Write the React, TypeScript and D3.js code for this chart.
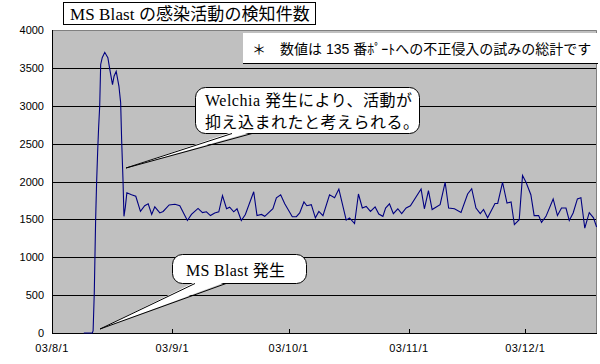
import * as d3 from "d3";

// day offsets from 03/8/1 and detection counts
const DAYS = [
  8.2, 10.4, 10.6, 10.9, 11.25, 11.5, 11.76, 12.0, 12.3, 12.55, 12.95, 13.6, 14.4, 14.9, 15.6,
  16.0, 16.55, 17.25, 17.7, 17.95, 18.3, 18.55, 18.9, 19.3, 20.5, 21.6, 22.8, 23.9, 24.8, 25.7,
  26.5, 27.8, 28.65, 30.2, 31.7, 32.95, 34.9, 35.95, 37.65, 38.8, 39.8, 40.85, 41.95, 43.0, 43.95,
  45.0, 45.8, 46.85, 47.7, 48.8, 49.85, 52.0, 52.85, 54.0, 54.85, 56.95, 57.85, 58.95, 60.0, 61.95,
  63.0, 63.85, 64.95, 65.7, 66.85, 67.9, 68.8, 69.85, 71.55, 72.85, 73.95, 75.85, 76.7, 78.0, 79.0,
  80.0, 81.0, 82.1, 83.3, 84.25, 85.3, 86.0, 87.0, 88.0, 89.15, 90.15, 91.3, 92.4, 95.15, 96.0,
  97.05, 98.0, 100.05, 101.35, 102.25, 103.75, 105.45, 107.15, 108.2, 109.3, 110.4, 111.25, 112.3, 114.2, 114.9,
  116.15, 117.3, 118.35, 119.2, 120.45, 121.3, 122.2, 123.45, 124.3, 125.45, 126.2, 127.35, 129.2, 130.3, 131.35,
  132.5, 133.35, 134.35, 135.45, 136.35, 137.35, 138.5, 139.6, 140.4,
];
const COUNTS = [
  0, 0, 30, 530, 1500, 1985, 2380, 2690, 3000, 3545, 3635, 3705, 3635, 3480, 3280,
  3390, 3455, 3260, 3040, 2550, 2025, 1540, 1660, 1850, 1825, 1805, 1605, 1680, 1705, 1565,
  1665, 1585, 1605, 1690, 1700, 1680, 1485, 1565, 1645, 1590, 1600, 1550, 1585, 1600, 1815,
  1640, 1660, 1600, 1640, 1485, 1565, 1865, 1550, 1565, 1540, 1640, 1785, 1825, 1705, 1535,
  1535, 1585, 1730, 1680, 1695, 1520, 1605, 1550, 1825, 1785, 1900, 1490, 1520, 1445, 1835,
  1650, 1670, 1605, 1665, 1570, 1540, 1650, 1705, 1575, 1640, 1575, 1650, 1680, 1900, 1640,
  1880, 1630, 1695, 1990, 1650, 1640, 1590, 1835, 1905, 1650, 1575, 1630, 1520, 1710, 1710,
  1990, 1715, 1730, 1430, 1495, 2080, 1990, 1825, 1550, 1550, 1460, 1540, 1770, 1550, 1650,
  1650, 1485, 1585, 1770, 1785, 1385, 1590, 1520, 1400,
];

const Y_TICKS = [0, 500, 1000, 1500, 2000, 2500, 3000, 3500, 4000];
const MONTH_DAYS = [0, 31, 61, 92, 122];
const MONTH_LABELS = ["03/8/1", "03/9/1", "03/10/1", "03/11/1", "03/12/1"];

const TITLE = "MS Blast の感染活動の検知件数";
const NOTE = "数値は 135 番ﾎﾟｰﾄへの不正侵入の試みの総計です";
const CALLOUT_WELCHIA = ["Welchia 発生により、活動が", "抑え込まれたと考えられる。"];
const CALLOUT_BLAST = "MS Blast 発生";

const W = 600;
const H = 364;
const PLOT = { left: 52, right: 597, top: 30, bottom: 333 };

const SERIF = "'Liberation Serif', 'Noto Sans CJK JP', serif";
const SANS = "'Liberation Sans', 'Noto Sans CJK JP', sans-serif";

type Pt = [number, number];

function Callout({
  box,
  base,
  tip,
  children,
}: {
  box: { x: number; y: number; w: number; h: number };
  base: [number, number];
  tip: Pt;
  children: React.ReactNode;
}) {
  const by = box.y + box.h;
  return (
    <g>
      <rect
        x={box.x}
        y={box.y}
        width={box.w}
        height={box.h}
        rx={10}
        fill="#fff"
        stroke="#000"
      />
      {/* wedge: fill covers box border between base points */}
      <polygon
        points={`${base[0]},${by - 1.5} ${tip[0]},${tip[1]} ${base[1]},${by - 1.5}`}
        fill="#fff"
      />
      <path
        d={`M${base[0]},${by} L${tip[0]},${tip[1]} L${base[1]},${by}`}
        fill="none"
        stroke="#000"
      />
      {children}
    </g>
  );
}

export default function App() {
  const x = d3.scaleLinear().domain([0, 140.5]).range([PLOT.left, PLOT.right]);
  const y = d3.scaleLinear().domain([0, 4000]).range([PLOT.bottom, PLOT.top]);
  const pts: Pt[] = DAYS.map((d, i) => [d, COUNTS[i]]);
  const line = d3
    .line<Pt>()
    .x((p) => x(p[0]))
    .y((p) => y(p[1]));

  return (
    <svg
      width={W}
      height={H}
      style={{ position: "fixed", left: 0, top: 0, background: "#fff" }}
    >
      {/* plot area */}
      <rect
        x={PLOT.left}
        y={PLOT.top}
        width={PLOT.right - PLOT.left}
        height={PLOT.bottom - PLOT.top}
        fill="#c0c0c0"
      />
      <path
        d={`M${PLOT.left},${PLOT.top + 0.5} H${PLOT.right - 0.5} V${PLOT.bottom}`}
        fill="none"
        stroke="#808080"
      />
      {Y_TICKS.map((t) => (
        <g key={t}>
          {t > 0 && t < 4000 && (
            <line
              x1={PLOT.left}
              x2={PLOT.right - 1}
              y1={Math.round(y(t)) + 0.5}
              y2={Math.round(y(t)) + 0.5}
              stroke="#000"
            />
          )}
          <text
            x={44}
            y={y(t) + 4}
            fontSize={11}
            fontFamily={SANS}
            textAnchor="end"
            fill="#000"
          >
            {t}
          </text>
        </g>
      ))}
      {/* axes */}
      <line x1={PLOT.left + 0.5} x2={PLOT.left + 0.5} y1={PLOT.top} y2={PLOT.bottom} stroke="#000" />
      <line x1={PLOT.left} x2={PLOT.right} y1={PLOT.bottom + 0.5} y2={PLOT.bottom + 0.5} stroke="#000" />
      {MONTH_DAYS.map((d, i) => (
        <g key={d}>
          <line
            x1={Math.round(x(d)) + 0.5}
            x2={Math.round(x(d)) + 0.5}
            y1={PLOT.bottom - 4}
            y2={PLOT.bottom}
            stroke="#000"
          />
          <text
            x={x(d)}
            y={352}
            fontSize={11}
            fontFamily={SANS}
            textAnchor="middle"
            letterSpacing={0.5}
            fill="#000"
          >
            {MONTH_LABELS[i]}
          </text>
        </g>
      ))}

      {/* series */}
      <path d={line(pts) ?? ""} fill="none" stroke="#000080" strokeWidth={1.1} />

      {/* title */}
      <rect x={63.5} y={2.5} width={252} height={22} fill="#fff" stroke="#000" />
      <text x={70} y={20} fontSize={17} fontFamily={SERIF} letterSpacing={0.1} fill="#000">
        {TITLE}
      </text>

      {/* note */}
      <rect x={243} y={33} width={355} height={30} fill="#fff" />
      <line x1={243} x2={598} y1={63.5} y2={63.5} stroke="#000" />
      <text x={252} y={54} fontSize={14} fontFamily={SANS} fill="#000">
        ＊
      </text>
      <text x={280} y={54} fontSize={14} fontFamily={SANS} fill="#000">
        {NOTE}
      </text>

      {/* callouts */}
      <Callout
        box={{ x: 195.5, y: 87.5, w: 224, h: 46 }}
        base={[232, 252]}
        tip={[126, 168]}
      >
        <text x={205} y={106} fontSize={16} fontFamily={SERIF} letterSpacing={0.5} fill="#000">
          {CALLOUT_WELCHIA[0]}
        </text>
        <text x={205} y={128} fontSize={16} fontFamily={SERIF} letterSpacing={0.5} fill="#000">
          {CALLOUT_WELCHIA[1]}
        </text>
      </Callout>
      <Callout
        box={{ x: 172.5, y: 254.5, w: 134, h: 29 }}
        base={[195, 226]}
        tip={[100, 329]}
      >
        <text x={186} y={276} fontSize={16} fontFamily={SERIF} letterSpacing={0.3} fill="#000">
          {CALLOUT_BLAST}
        </text>
      </Callout>
    </svg>
  );
}
